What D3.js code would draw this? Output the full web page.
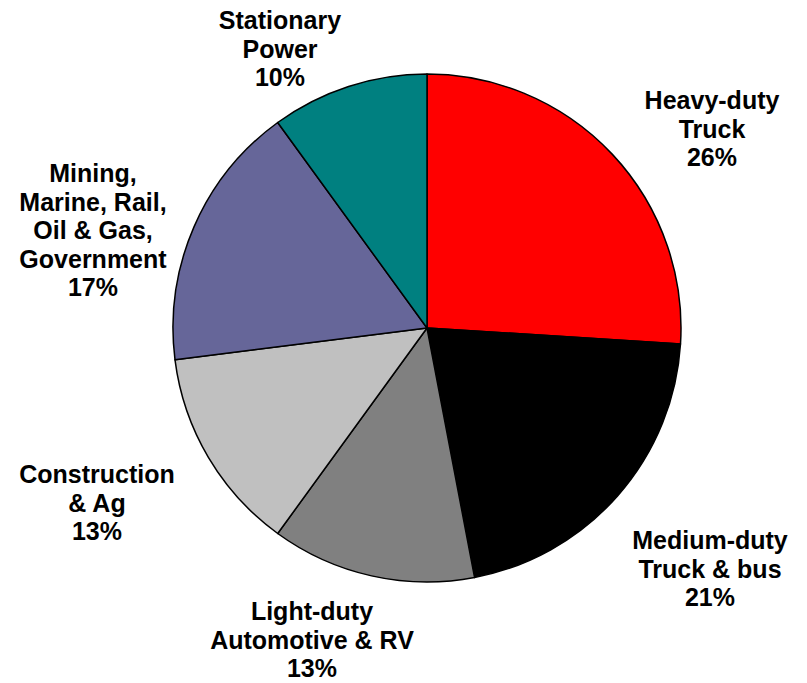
<!DOCTYPE html>
<html>
<head>
<meta charset="utf-8">
<script src="https://cdn.jsdelivr.net/npm/d3@7"></script>
<style>
  body { margin: 0; background: #fff; }
  text { font-family: "Liberation Sans", Arial, sans-serif; font-weight: bold; font-size: 25px; fill: #000; }
</style>
</head>
<body>
<div id="chart"></div>
<script>
// segments, clockwise from 12 o'clock
var labels = [
  ["Heavy-duty", "Truck"],
  ["Medium-duty", "Truck & bus"],
  ["Light-duty", "Automotive & RV"],
  ["Construction", "& Ag"],
  ["Mining,", "Marine, Rail,", "Oil & Gas,", "Government"],
  ["Stationary", "Power"]
];
var shares = [26, 21, 13, 13, 17, 10];
var colors = ["#FF0000", "#000000", "#808080", "#C0C0C0", "#666699", "#008080"];

// label anchor (centre x, first baseline)
var labelPos = [[712, 109], [710, 549], [312, 620], [97, 483], [93, 182], [280, 29]];

var width = 807, height = 683;
var cx = 427, cy = 328, radius = 254;
var lineH = 28.6;

var svg = d3.select("#chart")
    .append("svg")
    .attr("width", width)
    .attr("height", height);

var pie = d3.pie().sort(null).value(function (d) { return d; });
var arc = d3.arc().innerRadius(0).outerRadius(radius);

var g = svg.append("g")
    .attr("transform", "translate(" + cx + "," + cy + ")");

g.selectAll("path")
    .data(pie(shares))
    .enter()
    .append("path")
    .attr("d", arc)
    .attr("fill", function (d, i) { return colors[i]; })
    .attr("stroke", "#000")
    .attr("stroke-width", 1.5)
    .attr("stroke-linejoin", "round");

labels.forEach(function (lines, i) {
    var t = svg.append("text")
        .attr("text-anchor", "middle")
        .attr("x", labelPos[i][0])
        .attr("y", labelPos[i][1]);
    lines.concat([shares[i] + "%"]).forEach(function (s, j) {
        t.append("tspan")
            .attr("x", labelPos[i][0])
            .attr("dy", j === 0 ? 0 : lineH)
            .text(s);
    });
});
</script>
</body>
</html>
